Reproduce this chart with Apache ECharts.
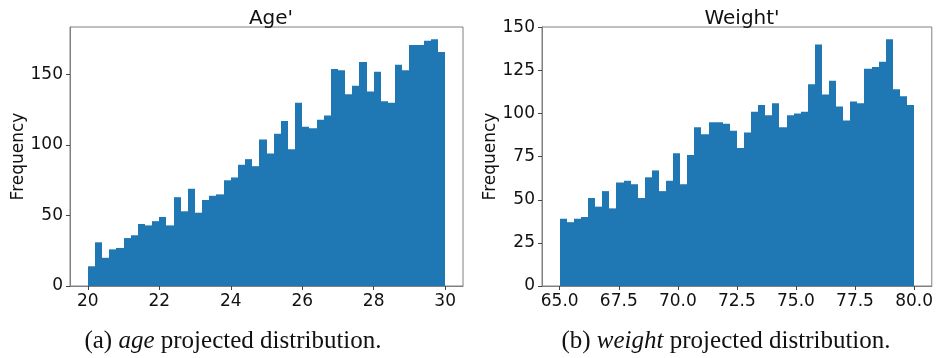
<!DOCTYPE html>
<html>
<head>
<meta charset="utf-8">
<script src="https://cdn.jsdelivr.net/npm/echarts@6/dist/echarts.min.js"></script>
<style>
html,body{margin:0;padding:0;background:#fff;}
#c{width:936px;height:358px;}
</style>
</head>
<body>
<div id="c"></div>
<script>
// ---- Data ----
const ageBinStart = 20;
const ageBinWidth = 0.2;
const ageCounts = [14,31,20,26,27,34,36,44,43,46,49,43,63,53,69,52,61,64,65,75,77,86,90,85,104,94,108,117,97,130,113,112,118,121,154,153,136,142,159,138,152,131,130,157,153,171,171,174,175,166];
const ageXTicks = [20,22,24,26,28,30];
const ageYTicks = [0,50,100,150];

const weightBinStart = 65;
const weightBinWidth = 0.3;
const weightCounts = [39,37,39,40,51,46,55,45,60,61,59,51,63,67,55,61,77,59,76,92,88,95,95,94,90,80,89,101,105,99,106,92,99,100,101,117,140,111,119,104,96,107,106,126,127,130,143,114,110,105];
const weightXTicks = [65,67.5,70,72.5,75,77.5,80];
const weightYTicks = [0,25,50,75,100,125,150];

const titles = ["Age'", "Weight'"];
const yName = "Frequency";

// ---- Build ----
function bins(start, width, counts){
  return counts.map((c,i)=>[start + i*width, start + (i+1)*width, c]);
}
const barColor = '#1f77b4';
const sans = 'DejaVu Sans';
const axisGray = '#808080';

function renderBar(params, api){
  const a = api.coord([api.value(0), api.value(2)]);
  const b = api.coord([api.value(1), 0]);
  const x0 = Math.round(a[0]), x1 = Math.round(b[0]);
  return {
    type:'rect',
    shape:{x:x0, y:a[1], width:x1-x0, height:b[1]-a[1]},
    style:{fill:barColor}
  };
}

function xAxis(idx, min, max, ticks, fmt){
  return {
    type:'value', gridIndex:idx, min:min, max:max,
    splitLine:{show:false},
    axisLine:{show:true, onZero:false, lineStyle:{color:axisGray, width:1}},
    axisTick:{show:true, length:4, lineStyle:{color:'#444'}, customValues:ticks},
    axisLabel:{customValues:ticks, color:'#111', fontFamily:sans, fontSize:17, margin:7, formatter:fmt}
  };
}
function yAxis(idx, max, ticks){
  return {
    type:'value', gridIndex:idx, min:0, max:max,
    name:yName, nameLocation:'middle', nameGap:42,
    nameTextStyle:{color:'#111', fontFamily:sans, fontSize:17},
    splitLine:{show:false},
    axisLine:{show:true, lineStyle:{color:axisGray, width:1}},
    axisTick:{show:true, length:4, lineStyle:{color:'#444'}, customValues:ticks},
    axisLabel:{customValues:ticks, color:'#111', fontFamily:sans, fontSize:17, margin:7}
  };
}

const capFont = 'Liberation Serif';
const capSize = 25;
const chart = echarts.init(document.getElementById('c'), null, {renderer:'canvas'});
chart.setOption({
  animation:false,
  backgroundColor:'#fff',
  title:[
    {text:titles[0], left:266, top:4, textAlign:'center', textStyle:{fontFamily:sans, fontSize:20, fontWeight:'normal', color:'#111'}},
    {text:titles[1], left:737, top:4, textAlign:'center', textStyle:{fontFamily:sans, fontSize:20, fontWeight:'normal', color:'#111'}},
    {text:'(a) {i|age} projected distribution.', left:228, top:324, textAlign:'center',
     textStyle:{fontFamily:capFont, fontSize:capSize, fontWeight:'normal', color:'#111',
       rich:{i:{fontFamily:capFont, fontStyle:'italic', fontSize:capSize, color:'#111'}}}},
    {text:'(b) {i|weight} projected distribution.', left:721, top:324, textAlign:'center',
     textStyle:{fontFamily:capFont, fontSize:capSize, fontWeight:'normal', color:'#111',
       rich:{i:{fontFamily:capFont, fontStyle:'italic', fontSize:capSize, color:'#111'}}}}
  ],
  grid:[
    {left:70, top:27, width:393, height:259, show:true, borderColor:axisGray, borderWidth:1, backgroundColor:'transparent'},
    {left:542, top:27, width:391, height:259, show:true, borderColor:axisGray, borderWidth:1, backgroundColor:'transparent'}
  ],
  xAxis:[
    xAxis(0, 19.5, 30.5, ageXTicks, v=>String(v)),
    xAxis(1, 64.25, 80.75, weightXTicks, v=>Number(v).toFixed(1))
  ],
  yAxis:[
    yAxis(0, 183.75, ageYTicks),
    yAxis(1, 150.15, weightYTicks)
  ],
  series:[
    {type:'custom', xAxisIndex:0, yAxisIndex:0, renderItem:renderBar, encode:{x:[0,1], y:2}, data:bins(ageBinStart, ageBinWidth, ageCounts)},
    {type:'custom', xAxisIndex:1, yAxisIndex:1, renderItem:renderBar, encode:{x:[0,1], y:2}, data:bins(weightBinStart, weightBinWidth, weightCounts)}
  ]
});
</script>
</body>
</html>
